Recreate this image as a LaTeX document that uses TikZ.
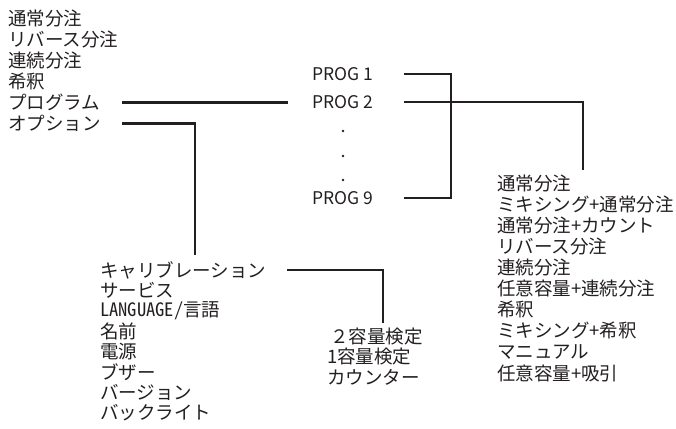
\documentclass[tikz,border=0pt]{standalone}
\usepackage{fontspec}
\setmainfont{Noto Sans CJK JP}
\usetikzlibrary{positioning}
\definecolor{ink}{HTML}{231F20}

\begin{document}
\begin{tikzpicture}[x=1pt,y=-1pt,
  every node/.style={font=\fontsize{18.5}{21}\selectfont,inner sep=0pt,anchor=west,text=ink},
  prog/.style={font=\fontsize{17.5}{20}\selectfont},
  conn/.style={line width=2.3pt,draw=ink}]
\useasboundingbox (0,0) rectangle (676,428);

% main menu
\foreach \i [count=\n] in {通常分注,リバース分注,連続分注,希釈,プログラム,オプション}
  \node at (8,-3+\n*21.1) (M\n){\i};

% programs
\node[prog] at (312,74) (P1){PROG 1};
\node[prog] at (312,102) (P2){PROG 2};
\node[prog] at (312,198) (P9){PROG 9};
\foreach \y in {131,156,180}
  \fill[ink] (343,\y) circle (1.3);

% program modes
\foreach \i [count=\n] in {通常分注,ミキシング+通常分注,通常分注+カウント,リバース分注,連続分注,
  任意容量+連続分注,希釈,ミキシング+希釈,マニュアル,任意容量+吸引}
  \node at (497,162+\n*21.1) (R\n){\i};

% options
\foreach \i [count=\n] in {キャリブレーション,サービス,{\addfontfeature{RawFeature=+hwid}LANGUAGE/}言語,名前,電源,ブザー,バージョン,バックライト}
  \node at (100,249.6+\n*20.4) (O\n){\i};

% calibration
\node at (330,337) (C1){２容量検定};
\node at (327,357) (C2){1容量検定};
\node at (327,377) (C3){カウンター};

\coordinate (sM) at (122,0);
\coordinate (eM) at (288,0);
\coordinate (sP) at (404,0);
\coordinate (sO) at (287,0);
\coordinate (jO) at (195,255);
\coordinate (jP) at (451,150);
\coordinate (jR) at (583,170);
\coordinate (jC) at (383,323);

\draw[conn] (M5 -| sM) -- (M5 -| eM);
\draw[conn] (M6 -| sM) -| (jO);
\draw[conn] (P1 -| sP) -| (jP) |- (P9 -| sP);
\draw[conn] (P2 -| sP) -| (jR);
\draw[conn] (O1 -| sO) -| (jC);
\end{tikzpicture}
\end{document}
